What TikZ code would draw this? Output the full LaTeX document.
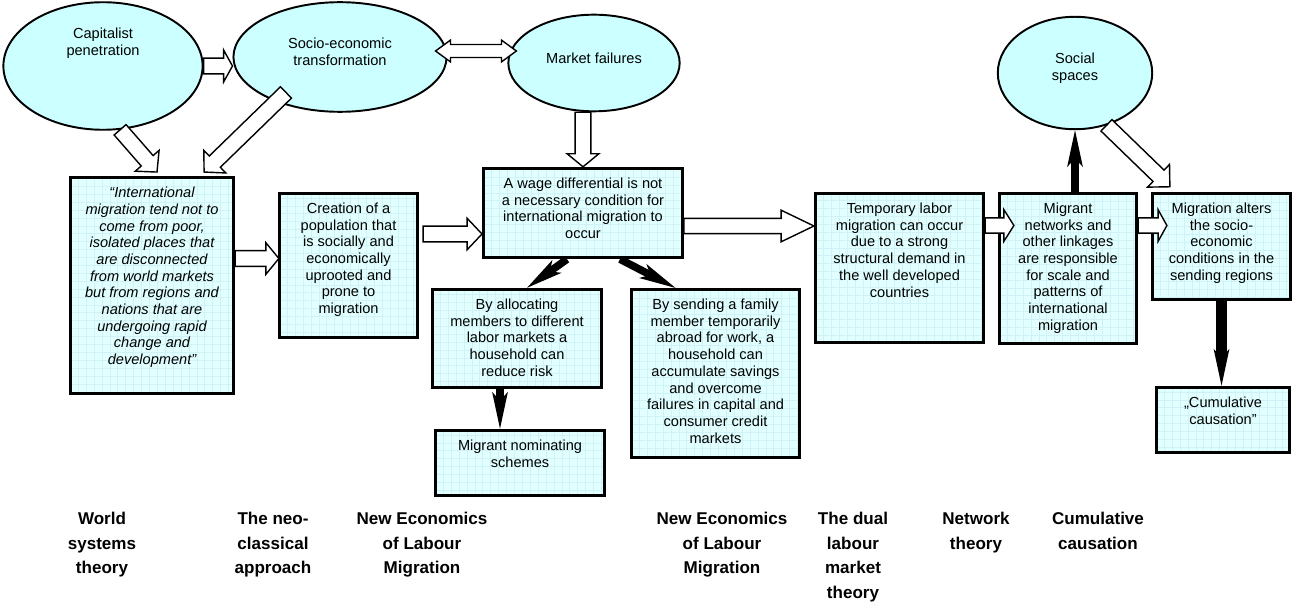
\documentclass[tikz,border=0pt]{standalone}
\usepackage{fontspec}
\setmainfont{Liberation Sans}
\usetikzlibrary{arrows.meta,calc,shapes.geometric}
\definecolor{ellfill}{RGB}{204,255,255}
\definecolor{boxfill}{RGB}{226,255,255}
\definecolor{gridcol}{RGB}{208,242,246}
\newcommand{\celltext}[3]{\parbox[c][\dimexpr#2pt-11pt\relax][t]{#1pt}{\centering #3}}
\tikzset{
  shaft/.store in=\ashaft, wing/.store in=\awing, headlen/.store in=\ahead,
  shaft=4.5pt, wing=9pt, headlen=7pt,
  ell/.style={ellipse, draw, line width=1.1pt, fill=ellfill, inner sep=0pt},
  txt/.style={align=center, font=\fontsize{8.3}{9.5}\selectfont},
  box/.style={draw, line width=1.6pt, fill=boxfill, inner xsep=0pt, inner ysep=5.5pt,
    font=\fontsize{8.3}{9.5}\selectfont,
    path picture={\draw[gridcol, line width=0.3pt, step=4.5pt]
      (path picture bounding box.south west) grid (path picture bounding box.north east);}},
  theory/.style={align=center, anchor=north, inner sep=0pt, font=\fontsize{9.7}{14}\selectfont\bfseries},
  whitearrow/.style={draw, line width=0.8pt, fill=white, to path={
    (\tikztostart) coordinate (bs) (\tikztotarget) coordinate (bt)
    ($(bs)!\ashaft!90:(bt)$)
    -- ($(bt)!\ahead!(bs)!\ashaft!-90:(bs)$) -- ($(bt)!\ahead!(bs)!\awing!-90:(bs)$)
    -- (bt)
    -- ($(bt)!\ahead!(bs)!\awing!90:(bs)$) -- ($(bt)!\ahead!(bs)!\ashaft!90:(bs)$)
    -- ($(bs)!\ashaft!-90:(bt)$) -- cycle}},
  whitedouble/.style={draw, line width=0.8pt, fill=white, to path={
    (\tikztostart) coordinate (bs) (\tikztotarget) coordinate (bt)
    (bs) -- ($(bs)!\ahead!(bt)!\awing!90:(bt)$) -- ($(bs)!\ahead!(bt)!\ashaft!90:(bt)$)
    -- ($(bt)!\ahead!(bs)!\ashaft!-90:(bs)$) -- ($(bt)!\ahead!(bs)!\awing!-90:(bs)$)
    -- (bt)
    -- ($(bt)!\ahead!(bs)!\awing!90:(bs)$) -- ($(bt)!\ahead!(bs)!\ashaft!90:(bs)$)
    -- ($(bs)!\ahead!(bt)!\ashaft!-90:(bt)$) -- ($(bs)!\ahead!(bt)!\awing!-90:(bt)$)
    -- cycle}},
  blackarrow/.style={line width=4.3pt, -{Stealth[length=21pt, width=9pt, inset=5pt, line width=0pt]}},
}
\begin{document}
\begin{tikzpicture}[x=0.02cm, y=-0.02cm]
  \useasboundingbox (0,0) rectangle (1293,601);

  \node[ell, minimum width=113.4pt, minimum height=72.6pt] (cap) at (103,66) {};
  \node[ell, minimum width=121.3pt, minimum height=62.4pt] (soc) at (340,57) {};
  \node[ell, minimum width=97.5pt, minimum height=55pt] (mkt) at (594,63) {};
  \node[ell, minimum width=87.9pt, minimum height=64pt] (socs) at (1075,73) {};
  \node[txt] (capt) at (103,43) {Capitalist\\penetration};
  \node[txt] (soct) at (340,52) {Socio-economic\\transformation};
  \node[txt] (mktt) at (594,58) {Market failures};
  \node[txt] (socst) at (1075,68) {Social\\spaces};

  \node[box] (intl) at (152,285.5) {\celltext{93}{123}{\itshape “International\\migration tend not to\\come from poor,\\isolated places that\\are disconnected\\from world markets\\but from regions and\\nations that are\\undergoing rapid\\change and\\development”}};
  \node[box] (creat) at (348.5,265.5) {\celltext{78.8}{82.2}{Creation of a\\population that\\is socially and\\economically\\uprooted and\\prone to\\migration}};
  \node[box] (wage) at (583,213) {\celltext{113.4}{51}{A wage differential is not\\a necessary condition for\\international migration to\\occur}};
  \node[box] (alloc) at (517,338.5) {\celltext{96.4}{56.1}{By allocating\\members to different\\labor markets a\\household can\\reduce risk}};
  \node[box] (send) at (715.5,373.5) {\celltext{95.8}{95.8}{By sending a family\\member temporarily\\abroad for work, a\\household can\\accumulate savings\\and overcome\\failures in capital and\\consumer credit\\markets}};
  \node[box] (nomin) at (520,463) {\celltext{96.4}{37.4}{Migrant nominating\\schemes}};
  \node[box] (temp) at (899.5,268) {\celltext{95.8}{85}{Temporary labor\\migration can occur\\due to a strong\\structural demand in\\the well developed\\countries}};
  \node[box] (netw) at (1068,268.5) {\celltext{78.2}{85.6}{Migrant\\networks and\\other linkages\\are responsible\\for scale and\\patterns of\\international\\migration}};
  \node[box] (alters) at (1221.5,246.5) {\celltext{78.8}{60.7}{Migration alters\\the socio-\\economic\\conditions in the\\sending regions}};
  \node[box] (cumul) at (1223,420) {\celltext{76}{37.4}{„Cumulative\\causation”}};

  \node[theory] (wst) at (102,512) {World\\systems\\theory};
  \node[theory] (nca) at (273,512) {The neo-\\classical\\approach};
  \node[theory] (nelma) at (422,512) {New Economics\\of Labour\\Migration};
  \node[theory] (nelmb) at (722,512) {New Economics\\of Labour\\Migration};
  \node[theory] (dlm) at (853,512) {The dual\\labour\\market\\theory};
  \node[theory] (nett) at (976,512) {Network\\theory};
  \node[theory] (cumt) at (1098,512) {Cumulative\\causation};

  \draw[whitearrow, headlen=5pt] (cap.east) to (cap.east -| soc.west);
  \draw[whitearrow, headlen=8.5pt] (cap.-75) to ($(intl.north)+(5,-4)$);
  \draw[whitearrow, headlen=8.5pt] ($(soc.south west)+(22,-4)$) to ($(intl.north east)+(-31,-4)$);
  \draw[whitedouble, shaft=3.7pt, wing=6.2pt, headlen=8.5pt] ($(soc.east)+(-12,-6)$) to ($(mkt.west)+(9,-12)$);
  \draw[whitearrow, headlen=7.4pt] (mkt.south -| wage.north) to (wage.north);
  \draw[whitearrow, headlen=7.4pt] ($(intl.east)+(0,-27)$) to ($(creat.west)+(1,-7)$);
  \draw[whitearrow, headlen=8.5pt] ($(creat.east)+(4,-31.5)$) to ($(wage.west)+(0,21)$);
  \draw[whitearrow, shaft=4.3pt, headlen=18.7pt] ($(wage.east)+(0,13)$) to ($(temp.west)+(0,-42)$);
  \draw[whitearrow, shaft=4.3pt, headlen=5.7pt] ($(temp.east)+(0,-42.5)$) to ($(netw.west)+(16,-43)$);
  \draw[whitearrow, shaft=4.3pt, headlen=5pt] ($(netw.east)+(0,-43)$) to ($(alters.west)+(16,-21)$);
  \draw[whitearrow, headlen=9pt] (socs.-59) to ($(alters.north west)+(19,-5)$);

  \draw[blackarrow] (netw.north -| socs.south) -- (socs.south);
  \draw[blackarrow] ($(wage.south)+(-16,0)$) -- ($(alloc.north)+(10,0)$);
  \draw[blackarrow] ($(wage.south)+(37,0)$) -- ($(send.north)+(-40,0)$);
  \draw[blackarrow] ($(alloc.south)+(-17,0)$) -- ($(nomin.north)+(-20,0)$);
  \draw[blackarrow, line width=6.5pt] (alters.south) -- (alters.south |- cumul.north);
\end{tikzpicture}
\end{document}
